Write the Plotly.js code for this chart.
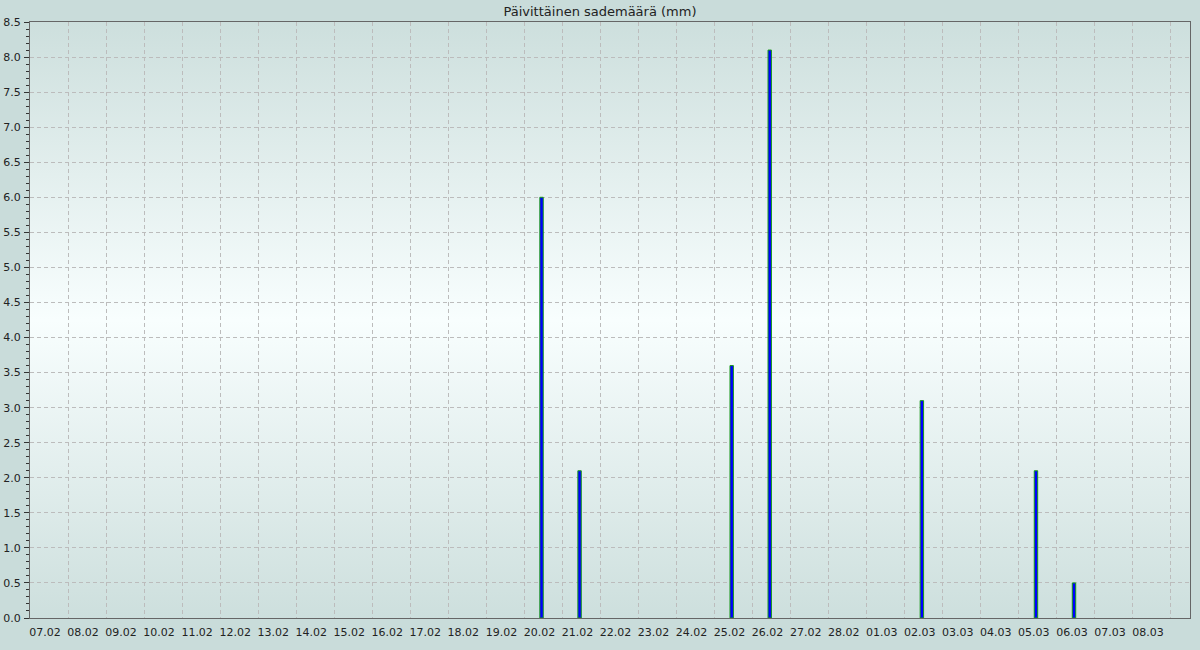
<!DOCTYPE html>
<html>
<head>
<meta charset="utf-8">
<script src="https://cdn.plot.ly/plotly-3.0.1.min.js"></script>
<style>
  html, body { margin: 0; padding: 0; background: #c9dcda; }
  #wrap { position: relative; width: 1200px; height: 650px; background: #c9dcda; }
  #bg { position: absolute; left: 30px; top: 22px; width: 1160px; height: 596px;
        background: linear-gradient(to bottom, #cddfdd 0%, #f8fefe 50%, #cddfdd 100%); }
  #chart { position: absolute; left: 0; top: 0; width: 1200px; height: 650px; }
</style>
</head>
<body>
<div id="wrap"><div id="bg"></div><div id="chart"></div></div>
<script>
const dates = ["07.02","08.02","09.02","10.02","11.02","12.02","13.02","14.02","15.02","16.02",
               "17.02","18.02","19.02","20.02","21.02","22.02","23.02","24.02","25.02","26.02",
               "27.02","28.02","01.03","02.03","03.03","04.03","05.03","06.03","07.03","08.03"];
const rain  = [0,0,0,0,0,0,0,0,0,0,
               0,0,0,6.0,2.1,0,0,0,3.6,8.1,
               0,0,0,3.1,0,0,2.1,0.5,0,0];

const xPos = dates.map((d, i) => i + 0.45);
const yVals = rain.map(v => v > 0 ? v : null);
const gridVals = dates.map((d, i) => i).concat([dates.length]);
const gridText = dates.concat([""]);

const trace = {
  type: 'bar',
  x: xPos,
  y: yVals,
  width: 0.09,
  marker: { color: '#0000ff', line: { color: '#1a9a1a', width: 1 } },
  hoverinfo: 'x+y'
};

const layout = {
  width: 1200, height: 650,
  margin: { l: 30, r: 10, t: 22, b: 32, pad: 0 },
  paper_bgcolor: 'rgba(0,0,0,0)',
  plot_bgcolor: 'rgba(0,0,0,0)',
  font: { family: 'DejaVu Sans', size: 11, color: '#222' },
  title: { text: 'Päivittäinen sademäärä (mm)', x: 0.5, xanchor: 'center', y: 0.983, yanchor: 'middle',
           font: { family: 'DejaVu Sans', size: 13, color: '#222' } },
  showlegend: false,
  bargap: 0,
  xaxis: {
    range: [0, dates.length + 0.5],
    tickmode: 'array', tickvals: gridVals, ticktext: gridText,
    ticklabelshift: 15, ticklabelstandoff: 4,
    ticks: '', showgrid: true, gridcolor: '#bcbcbc', griddash: '4px,3px', gridwidth: 1,
    showline: true, linecolor: '#666', linewidth: 1, mirror: true, zeroline: false,
    tickfont: { size: 11, color: '#222' }
  },
  yaxis: {
    range: [0, 8.5], dtick: 0.5, tick0: 0, tickformat: '.1f',
    ticks: 'outside', ticklen: 5, tickcolor: '#333', tickwidth: 1,
    minor: { dtick: 0.1, ticks: 'outside', ticklen: 3, tickcolor: '#333', showgrid: false },
    showgrid: true, gridcolor: '#bcbcbc', griddash: '4px,3px', gridwidth: 1,
    showline: true, linecolor: '#666', linewidth: 1, mirror: true, zeroline: false,
    ticklabelstandoff: 1,
    tickfont: { size: 11, color: '#222' }
  }
};

Plotly.newPlot('chart', [trace], layout, { displayModeBar: false, staticPlot: true });
</script>
</body>
</html>
